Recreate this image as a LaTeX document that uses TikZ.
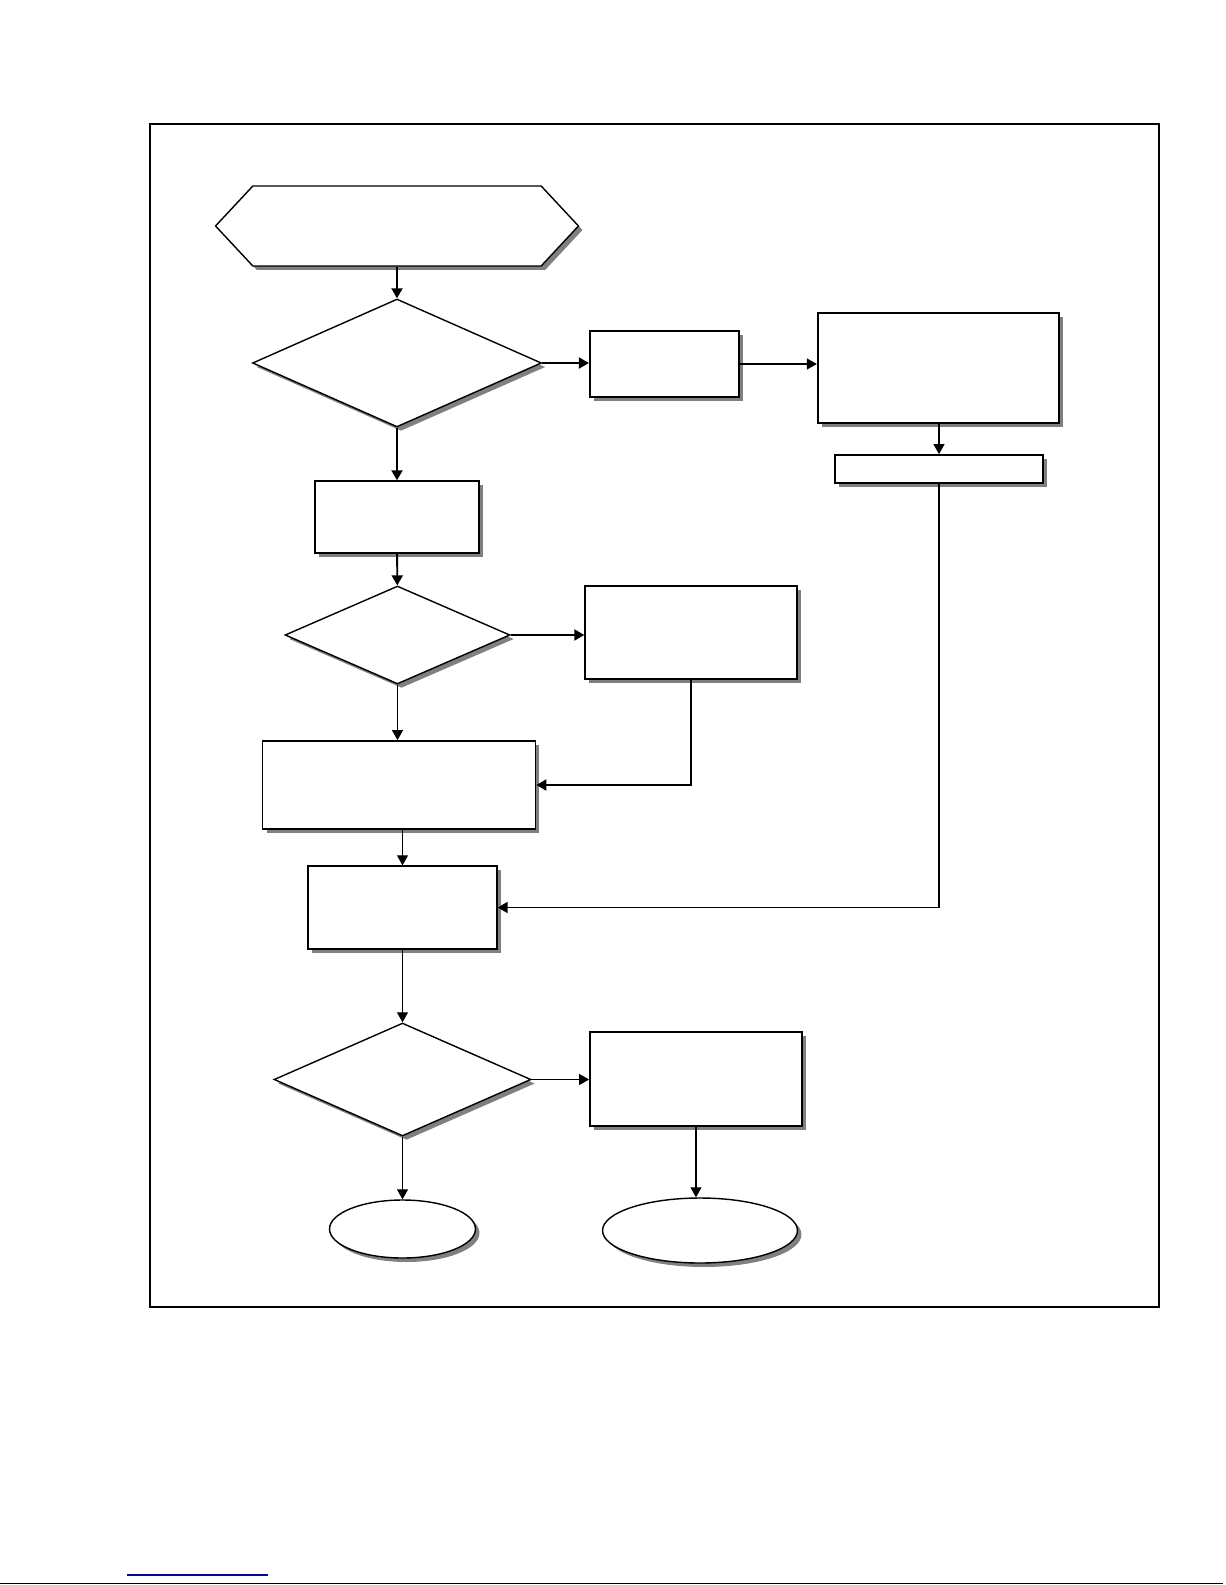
\documentclass[tikz,border=0pt]{standalone}
\usetikzlibrary{shapes.geometric,shapes.symbols,shadows,arrows.meta}

\begin{document}
\begin{tikzpicture}
  [x=0.02cm,y=-0.02cm,
   every node/.style={draw,fill=white,inner sep=0pt,line width=0.8pt,
     drop shadow={shadow xshift=0.08cm,shadow yshift=-0.08cm,fill=black!50,opacity=1}},
   stepbox/.style={rectangle},
   heavybox/.style={rectangle,line width=1.3pt},
   decision/.style={diamond},
   terminal/.style={ellipse},
   start/.style={signal,signal to=west and east,signal pointer angle=94},
   link/.style={-{Triangle[length=0.2cm,width=0.22cm]},line width=0.6pt},
   heavylink/.style={link,line width=1.1pt}]
  \useasboundingbox (0,0) rectangle (1225,1585);
  \draw[line width=1.5pt] (150,124) rectangle (1159,1307);

  \node (init)   [start,minimum width=7.26cm,minimum height=1.6cm] at (397,226) {};
  \node (check1) [decision,minimum width=5.78cm,minimum height=2.56cm] at (397,363) {};
  \node (alt1)   [heavybox,minimum width=2.98cm,minimum height=1.32cm] at (664.5,364) {};
  \node (alt2)   [heavybox,minimum width=4.82cm,minimum height=2.2cm] at (938.5,368) {};
  \node (alt3)   [stepbox,line width=1pt,minimum width=4.16cm,minimum height=0.56cm] at (939,469) {};
  \node (prep)   [stepbox,minimum width=3.28cm,minimum height=1.44cm] at (397,517) {};
  \node (check2) [decision,minimum width=4.5cm,minimum height=1.96cm] at (397.5,635) {};
  \node (fix)    [stepbox,minimum width=4.24cm,minimum height=1.86cm] at (691,632.5) {};
  \node (run)    [stepbox,line width=1pt,minimum width=5.46cm,minimum height=1.76cm] at (399,785) {};
  \node (merge)  [stepbox,minimum width=3.78cm,minimum height=1.66cm] at (402.5,907.5) {};
  \node (check3) [decision,minimum width=5.14cm,minimum height=2.26cm] at (402.5,1079.5) {};
  \node (fail)   [stepbox,line width=1pt,minimum width=4.24cm,minimum height=1.88cm] at (696,1079) {};
  \node (endok)  [terminal,minimum width=2.92cm,minimum height=1.16cm] at (402.5,1229) {};
  \node (endbad) [terminal,minimum width=3.9cm,minimum height=1.3cm] at (700,1230.5) {};

  \draw[heavylink] (init) -- (check1);
  \draw[heavylink] (check1.east) -- (check1.east -| alt1.west);
  \draw[link] (alt1.east) -- (alt1.east -| alt2.west);
  \draw[link] (alt2.south -| alt3.north) -- (alt3.north);
  \draw[heavylink] (check1) -- (prep);
  \draw[heavylink] (prep) -- (check2);
  \draw[heavylink] (check2) -- (check2 -| fix.west);
  \draw[heavylink] (fix.south) |- (run.east);
  \draw[link] (check2.south) -- (check2.south |- run.north);
  \draw[link] (run.south -| merge.north) -- (merge.north);
  \draw[heavylink] (alt3.south) |- (merge.east);
  \draw[link] (merge.south -| check3.north) -- (check3.north);
  \draw[link] (check3) -- (check3 -| fail.west);
  \draw[link] (check3) -- (endok);
  \draw[link] (fail.south) -- (fail.south |- endbad.north);

  \draw[blue!80!black,line width=0.6pt] (127,1575) -- (268,1575);
  \draw[line width=0.8pt] (0,1583.5) -- (1223,1583.5);
\end{tikzpicture}
\end{document}
